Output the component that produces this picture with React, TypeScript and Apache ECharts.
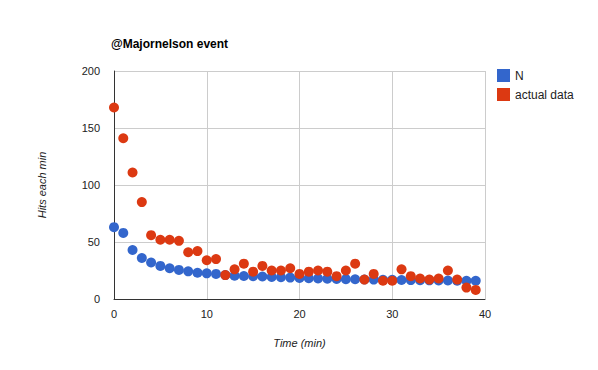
import React, { useEffect, useRef } from "react";
import * as echarts from "echarts";

const minutes: number[] = Array.from({ length: 40 }, (_, i) => i);
const nValues: number[] = [
  63, 58, 43, 36, 32, 29, 27, 25.5, 24.3, 23, 22.5, 22, 21, 20.5, 20.2, 20, 19.7, 19.4, 19.1, 18.8,
  18.5, 18.3, 18, 17.8, 17.6, 17.4, 17.3, 17.1, 17, 16.9, 16.8, 16.7, 16.6, 16.5, 16.4, 16.3, 16.2, 16.1, 16, 16,
];
const actualValues: number[] = [
  168, 141, 111, 85, 56, 52, 52, 51, 41, 42, 34, 35, 21, 26, 31, 24, 29, 25, 25, 27,
  22, 24, 25, 24, 20, 25, 31, 17, 22, 16, 16, 26, 20, 18, 17, 18, 25, 17, 10, 8,
];
const seriesNames: string[] = ["N", "actual data"];
const titleText = "@Majornelson event";
const xName = "Time (min)";
const yName = "Hits each min";

export default function App() {
  const ref = useRef<HTMLDivElement>(null);
  useEffect(() => {
    if (!ref.current) return;
    const chart = echarts.init(ref.current, null, { renderer: "svg" });
    const font = "Arial, 'Liberation Sans', sans-serif";
    chart.setOption({
      animation: false,
      backgroundColor: "#fff",
      textStyle: { fontFamily: font },
      title: {
        text: titleText,
        left: 106,
        top: 33,
        textStyle: { fontSize: 12, fontWeight: "bold", color: "#000", fontFamily: font },
      },
      legend: {
        orient: "vertical",
        left: 497,
        top: 69,
        padding: 0,
        itemWidth: 13,
        itemHeight: 13,
        itemGap: 6,
        icon: "rect",
        textStyle: { fontSize: 12, color: "#222", fontFamily: font },
        data: seriesNames,
      },
      grid: { left: 114, right: 113, top: 71, bottom: 71 },
      xAxis: {
        type: "value",
        min: 0,
        max: 40,
        interval: 10,
        name: xName,
        nameLocation: "middle",
        nameGap: 38,
        nameTextStyle: { fontStyle: "italic", fontSize: 11, color: "#222" },
        axisLine: { show: true, onZero: false, lineStyle: { color: "#333", width: 1 } },
        axisTick: { show: false },
        axisLabel: { fontSize: 11, color: "#222", margin: 9 },
        splitLine: { show: true, lineStyle: { color: "#ccc" } },
      },
      yAxis: {
        type: "value",
        min: 0,
        max: 200,
        interval: 50,
        name: yName,
        nameLocation: "middle",
        nameGap: 67,
        nameRotate: 90,
        nameTextStyle: { fontStyle: "italic", fontSize: 11, color: "#222" },
        axisLine: { show: true, lineStyle: { color: "#333", width: 1 } },
        axisTick: { show: false },
        axisLabel: { fontSize: 11, color: "#222", margin: 14 },
        splitLine: { show: true, lineStyle: { color: "#ccc" } },
      },
      series: [
        {
          name: seriesNames[0],
          type: "scatter",
          symbolSize: 10,
          itemStyle: { color: "#3366cc", opacity: 1 },
          data: minutes.map((m, i) => [m, nValues[i]]),
          z: 2,
        },
        {
          name: seriesNames[1],
          type: "scatter",
          symbolSize: 10,
          itemStyle: { color: "#dc3912", opacity: 1 },
          data: minutes.map((m, i) => [m, actualValues[i]]),
          z: 3,
        },
      ],
    });
    return () => chart.dispose();
  }, []);
  return <div ref={ref} style={{ width: 598, height: 370, position: "absolute", left: 0, top: 0 }} />;
}
